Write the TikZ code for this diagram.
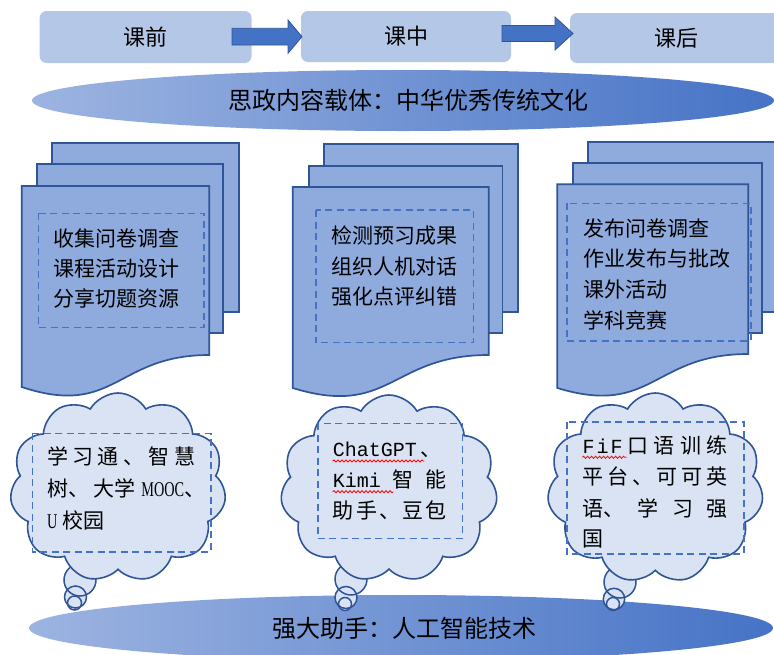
\documentclass[tikz,border=0pt]{standalone}
\usepackage{fontspec}
\usepackage{graphicx}
\setmainfont{Noto Sans CJK SC}
\newfontfamily\lat{Liberation Serif}
\newfontfamily\mono{Liberation Mono}
\usetikzlibrary{shapes.symbols,decorations.pathmorphing}
\definecolor{topbox}{HTML}{B4C7E7}
\definecolor{arrowblue}{HTML}{4472C4}
\definecolor{darkline}{HTML}{2F5597}
\definecolor{docfill}{HTML}{8FAADC}
\definecolor{cloudfill}{HTML}{DAE3F3}
\definecolor{gradleft}{HTML}{9DB4E1}
\definecolor{gradright}{HTML}{4673C6}
\newcommand\mtxt[1]{{\mono\fontsize{20}{24}\selectfont #1}}
\newcommand\ltxt[1]{\scalebox{0.68}[1]{\lat #1}}
\begin{document}
\begin{tikzpicture}[x=1pt,y=-1pt,
 phasebox/.style={fill=topbox, rounded corners=7pt, inner sep=0pt, font=\fontsize{22}{26}\selectfont},
 blockarrow/.style={fill=arrowblue, draw=darkline, line width=0.8pt},
 banner/.style={left color=gradleft, right color=gradright},
 sheet/.style={fill=docfill, draw=darkline, line width=1.7pt},
 dashbox/.style={draw=arrowblue, dash pattern=on 7pt off 4.5pt, line width=1.6pt},
 bubble/.style={fill=cloudfill, draw=darkline, line width=1.6pt},
 cloudshape/.style={cloud, cloud puffs=11, cloud puff arc=120, cloud ignores aspect, fill=cloudfill, draw=darkline, line width=1.6pt, inner sep=0pt},
 bannertext/.style={font=\fontsize{24}{28}\selectfont, inner sep=0pt},
 body/.style={font=\fontsize{21}{25}\selectfont, inner sep=0pt, anchor=base west},
 spell/.style={draw=red, line width=0.8pt, decorate, decoration={snake, amplitude=1.1pt, segment length=4pt}}
]
\path[use as bounding box] (0,0) rectangle (774,654);
\clip (0,0) rectangle (774,654);

% top phase boxes
\node[phasebox, minimum width=212, minimum height=52] (pre) at (145.6,37) {课前};
\node[phasebox, minimum width=210, minimum height=51] (mid) at (406,36.5) {课中};
\node[phasebox, minimum width=212, minimum height=50] (post) at (676,38) {课后};
\path[blockarrow] (232,28.3) -- (288,28.3) -- (288,20) -- (302,36.7) -- (288,53.3) -- (288,45) -- (232,45) -- cycle;
\path[blockarrow] (502,25.5) -- (555,25.5) -- (555,17) -- (573,33.5) -- (555,50) -- (555,41.5) -- (502,41.5) -- cycle;

% banners
\shade[banner] (403,100.5) ellipse [x radius=371, y radius=30.5];
\node[bannertext] (culture) at (408,100) {思政内容载体：中华优秀传统文化};
\shade[banner] (401,628) ellipse [x radius=372, y radius=33];
\node[bannertext] (ai) at (404,628) {强大助手：人工智能技术};

% document stacks
\path[sheet] (51.7,142.7) rectangle (239.3,311.7);
\path[sheet] (37.3,164.3) rectangle (222.7,333.3);
\path[sheet] (21.7,186) -- (209.3,186) -- (209.3,355) .. controls (115.5,355) and (115.5,418) .. (21.7,387) -- cycle;

\path[sheet] (324.3,144) rectangle (518,312);
\path[sheet] (309,166) rectangle (502.5,333);
\path[sheet] (292.7,187) -- (488.7,187) -- (488.7,355) .. controls (390.7,355) and (390.7,418) .. (292.7,388) -- cycle;

\path[sheet] (588,141.7) rectangle (780,312);
\path[sheet] (573,163.3) rectangle (761.7,333.3);
\path[sheet] (557.3,184.3) -- (748.3,184.3) -- (748.3,354) .. controls (652.8,354) and (652.8,417) .. (557.3,388) -- cycle;

\path[dashbox] (38.3,213.3) rectangle (204,327.3);
\path[dashbox] (315.7,210) rectangle (473.3,342.3);
\path[dashbox] (566.7,203.3) rectangle (750.7,340.7);

\node[body] (d1a) at (53,246) {收集问卷调查};
\node[body] (d1b) at (53,276) {课程活动设计};
\node[body] (d1c) at (53,306) {分享切题资源};
\node[body] (d2a) at (331.7,243) {检测预习成果};
\node[body] (d2b) at (331.7,274.5) {组织人机对话};
\node[body] (d2c) at (331.7,304.5) {强化点评纠错};
\node[body] (d3a) at (583,236.3) {发布问卷调查};
\node[body] (d3b) at (583,266.5) {作业发布与批改};
\node[body] (d3c) at (583,297.5) {课外活动};
\node[body] (d3d) at (583,328) {学科竞赛};

% thought bubbles
\foreach \cx/\cy/\r in {80/580/16, 75.5/597/11, 74.5/603/7,
                         351/579/16, 346/597.5/11, 345/604/6.5,
                         620/582/16, 614/599/10.7, 613/604/6.5}
  \path[fill=cloudfill] (\cx,\cy) circle [radius=\r];
\foreach \cx/\cy/\r in {80/580/16, 75.5/597/11, 74.5/603/7,
                         351/579/16, 346/597.5/11, 345/604/6.5,
                         620/582/16, 614/599/10.7, 613/604/6.5}
  \path[draw=darkline, line width=1.5pt] (\cx,\cy) circle [radius=\r];

% clouds
\node[cloudshape, minimum width=216, minimum height=189] (c1) at (118,487.5) {};
\node[cloudshape, minimum width=217, minimum height=187] (c2) at (389,488.5) {};
\node[cloudshape, minimum width=216, minimum height=190] (c3) at (655.3,488) {};

\path[dashbox] (32.3,433.3) rectangle (210.7,551.7);
\path[dashbox] (317.7,423.3) rectangle (462.3,538.3);
\path[dashbox] (566.7,421.7) rectangle (744,554);

% cloud texts
\node[body] (t1a) at (47,464.7) {\makebox[148pt][s]{学\hfill 习\hfill 通\hfill 、\hfill 智\hfill 慧}};
\node[body] (t1b) at (47,496.3) {\makebox[158pt][s]{树、\hfill 大学\hspace{6pt}\ltxt{MOOC}、}};
\node[body] (t1c) at (47,528) {\ltxt{U}\hspace{5pt}校园};

\node[body] (t2a) at (332.7,456.3) {\mtxt{ChatGPT}\hspace{4pt}、};
\node[body] (t2b) at (332.7,487.3) {\makebox[114pt][s]{\mtxt{Kimi}\hfill 智\hfill 能}};
\node[body] (t2c) at (332.7,518) {\makebox[114pt][s]{助\hfill 手\hfill 、\hfill 豆\hfill 包}};
\draw[spell] (332.7,461) -- (424.3,461);
\draw[spell] (332.7,491.7) -- (393.3,491.7);

\node[body] (t3a) at (582.3,453) {\makebox[145pt][s]{\mtxt{F\hspace{2pt}i\hspace{2pt}F}\hfill 口\hfill 语\hfill 训\hfill 练}};
\node[body] (t3b) at (582.3,484.7) {\makebox[145pt][s]{平\hfill 台\hfill 、\hfill 可\hfill 可\hfill 英}};
\node[body] (t3c) at (582.3,516.3) {\makebox[145pt][s]{语、\hfill 学\hfill 习\hfill 强}};
\node[body] (t3d) at (582.3,546.3) {国};
\draw[spell] (582.3,457.3) -- (626.7,457.3);
\end{tikzpicture}
\end{document}
